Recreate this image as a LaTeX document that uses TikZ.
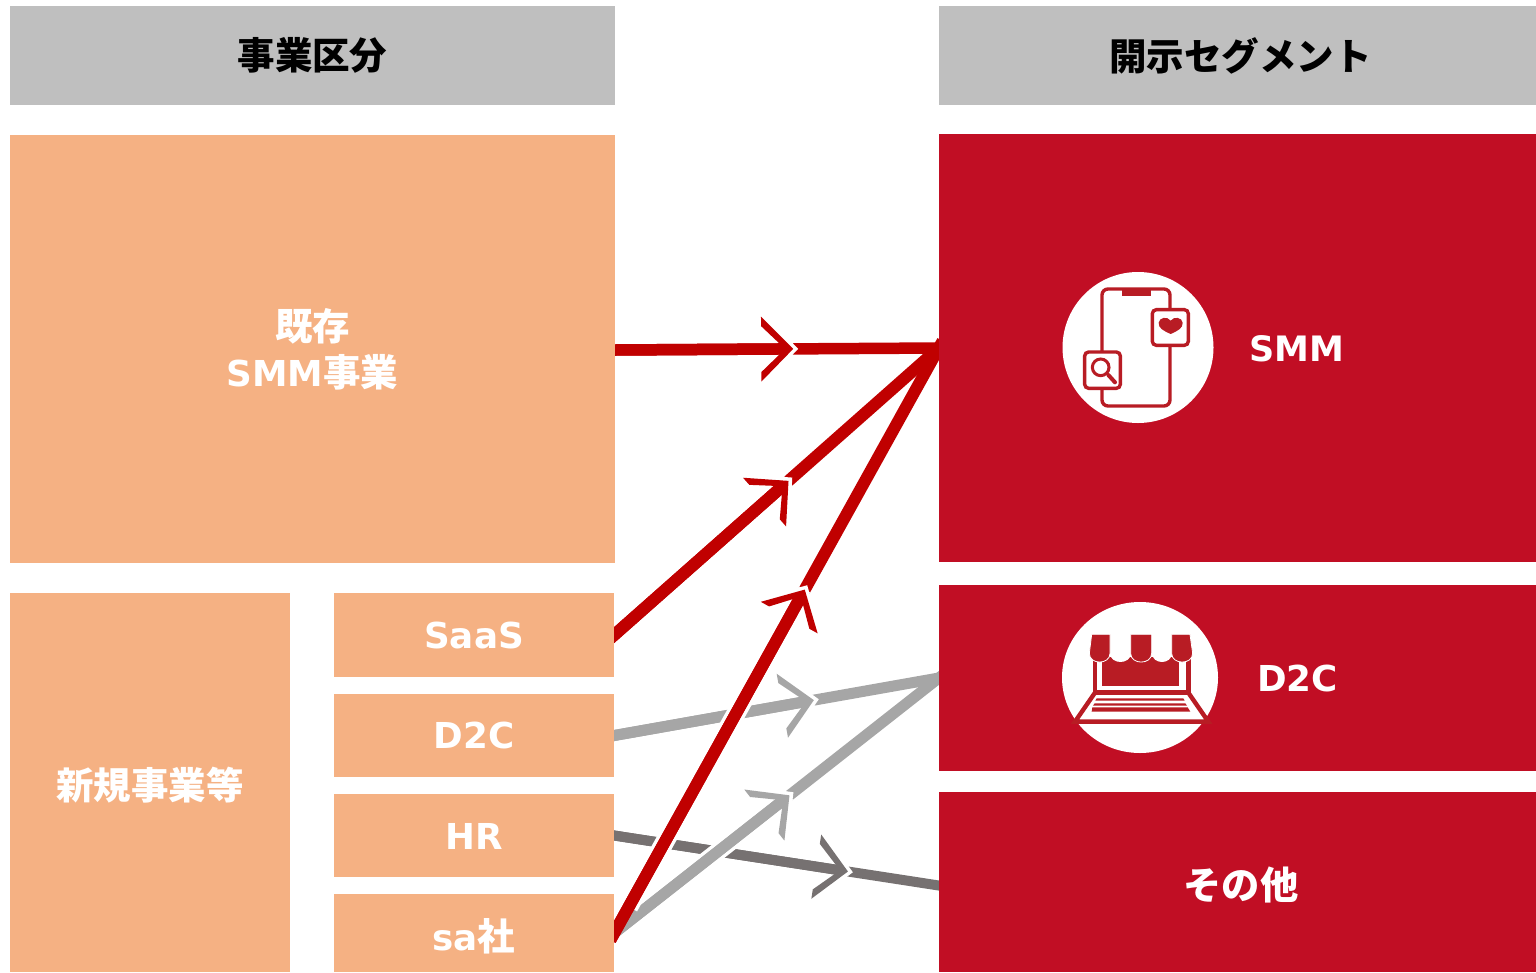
\documentclass[tikz,border=0pt]{standalone}
\usepackage{fontspec}
\usepackage{tikz}
\usetikzlibrary{calc}
\usetikzlibrary{arrows.meta}
\usetikzlibrary{backgrounds}
\usetikzlibrary{shapes.geometric}
\setmainfont{DejaVu Sans}
\newfontfamily\cjk{Noto Sans CJK JP}[Scale=1.05]
\definecolor{headgray}{HTML}{BFBFBF}
\definecolor{bizorange}{HTML}{F5B183}
\definecolor{segred}{HTML}{C10E24}
\definecolor{iconred}{HTML}{B81C24}
\definecolor{linered}{HTML}{C00000}
\definecolor{linegray}{HTML}{A6A6A6}
\definecolor{linedark}{HTML}{767171}
% open tip with square cut barbs
\pgfdeclarearrow{
	name=Flow Tip,
	setup code={
		\pgfarrowssettipend{0pt}
		\pgfarrowssetlineend{-6pt}
		\pgfarrowssetvisualtipend{0pt}
		\pgfarrowssetbackend{-32pt}
		\pgfarrowssetvisualbackend{-32pt}
		\pgfarrowshullpoint{0pt}{0pt}
		\pgfarrowsupperhullpoint{-32pt}{32.5pt}
	},
	drawing code={
		\pgfpathmoveto{\pgfpoint{0pt}{0pt}}
		\pgfpathlineto{\pgfpoint{-32pt}{32.5pt}}
		\pgfpathlineto{\pgfpoint{-32pt}{23pt}}
		\pgfpathlineto{\pgfpoint{-8pt}{0pt}}
		\pgfpathlineto{\pgfpoint{-32pt}{-23pt}}
		\pgfpathlineto{\pgfpoint{-32pt}{-32.5pt}}
		\pgfpathclose
		\pgfusepathqfill
	}
}
\tikzset{
	% Three box styles: header, business and segment
	head box/.style={fill=headgray,text=black,font=\fontsize{35.7}{46}\selectfont\bfseries\cjk,inner sep=0},
	biz box/.style={fill=bizorange,text=white,align=center,font=\fontsize{35.7}{46}\selectfont\bfseries,inner sep=0},
	seg box/.style={fill=segred,inner sep=0},
	box label/.style={text=white,font=\fontsize{35.7}{46}\selectfont\bfseries,inner sep=0},
	icon back/.style={ellipse,fill=white,inner sep=0},
	flowtip/.style={-{Flow Tip}}
}
\begin{document}
\begin{tikzpicture}[x=1pt,y=-1pt]
	% macro for a connector with an open tip part way along it
	\newcommand{\flowline}[5][11pt]{
		\draw[#2,line width=#1,shorten <=-8pt,shorten >=-8pt] (#3) -- (#4);
		\draw[white,line width=#1,flowtip] ($(#3)!#5!(#4)$) -- ($($(#3)!#5!(#4)$)!5pt!(#4)$);
		\draw[#2,line width=#1,flowtip,shorten <=-8pt] (#3) -- ($(#3)!#5!(#4)$);
	}
	\useasboundingbox (0,0) rectangle (1536,972);

	% headers
	\node[head box,minimum width=605pt,minimum height=99pt](bizhead) at (312.5,55.5){事業区分};
	\node[head box,minimum width=597pt,minimum height=99pt](seghead) at (1237.5,55.5){\hspace*{6pt}開示セグメント};

	% business boxes
	\node[biz box,minimum width=605pt,minimum height=428pt](smmbiz) at (312.5,349){{\cjk 既存}\\SMM{\cjk 事業}};
	\node[biz box,minimum width=280pt,minimum height=379pt](newbiz) at (150,782.5){};
	\node[biz box,minimum width=280pt,minimum height=84pt](saas) at (474,635){SaaS};
	\node[biz box,minimum width=280pt,minimum height=83pt](d2cbiz) at (474,735.5){D2C};
	\node[biz box,minimum width=280pt,minimum height=83pt](hr) at (474,835.5){};
	\node[biz box,minimum width=280pt,minimum height=78pt](sa) at (474,933){};
	\node[box label](newlabel) at (150,785.5){\cjk 新規事業等};
	\node[box label](hrlabel) at (474,836.5){HR};
	\node[box label](salabel) at (474,936){sa{\cjk 社}};

	% segment boxes
	\node[seg box,minimum width=597pt,minimum height=428pt](smmseg) at (1237.5,348){};
	\node[seg box,minimum width=597pt,minimum height=186pt](d2cseg) at (1237.5,678){};
	\node[seg box,minimum width=597pt,minimum height=180pt](otherseg) at (1237.5,882){};
	\node[box label,font=\fontsize{35}{46}\selectfont\bfseries](smmlabel) at (1296.5,348.5){SMM};
	\node[box label](d2clabel) at (1297.5,678.5){D2C};
	\node[box label,font=\fontsize{36.5}{46}\selectfont\bfseries](otherlabel) at (1241,884.5){\cjk その他};
	\coordinate (smmout) at ($(smmbiz.east)+(0,1)$);
	\coordinate (otherin) at ($(otherseg.west)+(0,3.5)$);

	% connectors go under the boxes
	\begin{scope}[on background layer]
		\flowline[10pt]{linedark}{hr.east}{otherin}{0.72}
		\draw[white,line width=18pt,shorten <=30pt,shorten >=30pt] (sa.east) -- (d2cseg.west);
		\flowline{linegray}{sa.east}{d2cseg.west}{0.54}
		\flowline{linegray}{d2cbiz.east}{d2cseg.west}{0.615}
		\draw[white,line width=19pt,shorten <=30pt,shorten >=60pt] (sa.east) -- (smmseg.west);
		\flowline[12pt]{linered}{sa.east}{smmseg.west}{0.587}
		\flowline[12pt]{linered}{saas.east}{smmseg.west}{0.537}
		\flowline[11.5pt]{linered}{smmout}{smmseg.west}{0.55}
	\end{scope}

	% SMM icon
	\node[icon back,minimum width=151pt,minimum height=151pt](smmicon) at (1138,347.5){};
	\begin{scope}[shift={(1040,260)},x=0.3333pt,y=-0.3333pt,iconred,line width=3.4pt]
		\draw[rounded corners=6pt] (186,87) rectangle (390,438);
		\fill (245,85) rectangle (332,108);
		\draw[fill=white,rounded corners=4pt] (337,149) rectangle (445,256);
		\draw[fill=white,rounded corners=4pt] (134,276) rectangle (241,385);
		\fill (392,222) .. controls (370,212) and (355,205) .. (356,188) .. controls (358,172) and (382,168) .. (392,182) .. controls (402,168) and (426,172) .. (428,188) .. controls (429,205) and (414,212) .. (392,222);
		\draw[line width=3pt] (182,322) circle (25);
		\draw[line width=4pt,line cap=round] (205,345) -- (225,367);
	\end{scope}

	% D2C icon
	\node[icon back,minimum width=156pt,minimum height=151pt](d2cicon) at (1140,677.5){};
	\begin{scope}[shift={(1040,590)},x=0.3333pt,y=-0.3333pt,iconred]
		\draw[line width=4.6pt] (165,180) rectangle (445,308);
		\fill (187,200) rectangle (418,287);
		\draw[fill=white,line width=4.4pt] (165,308) -- (105,395) -- (505,395) -- (445,308) -- cycle;
		\fill (170,325) -- (430,325) -- (434,332) -- (166,332) -- cycle;
		\fill (164,340) -- (436,340) -- (441,347) -- (159,347) -- cycle;
		\fill (157,352) -- (443,352) -- (451,365) -- (155,365) -- cycle;
		% awning
		\fill[white] (210,133) rectangle (395,190);
		\fill[white] (210,190) .. controls (210,225) and (272,225) .. (272,190) -- cycle;
		\fill[white] (335,190) .. controls (335,225) and (395,225) .. (395,190) -- cycle;
		\draw[white,fill=iconred,line width=0.8pt] (155,133) -- (210,133) -- (210,190) .. controls (210,225) and (148,225) .. (148,190) -- cycle;
		\draw[white,fill=iconred,line width=0.8pt] (272,133) -- (335,133) -- (335,190) .. controls (335,225) and (272,225) .. (272,190) -- cycle;
		\draw[white,fill=iconred,line width=0.8pt] (395,133) -- (450,133) -- (458,190) .. controls (458,225) and (395,225) .. (395,190) -- cycle;
	\end{scope}
\end{tikzpicture}
\end{document}
